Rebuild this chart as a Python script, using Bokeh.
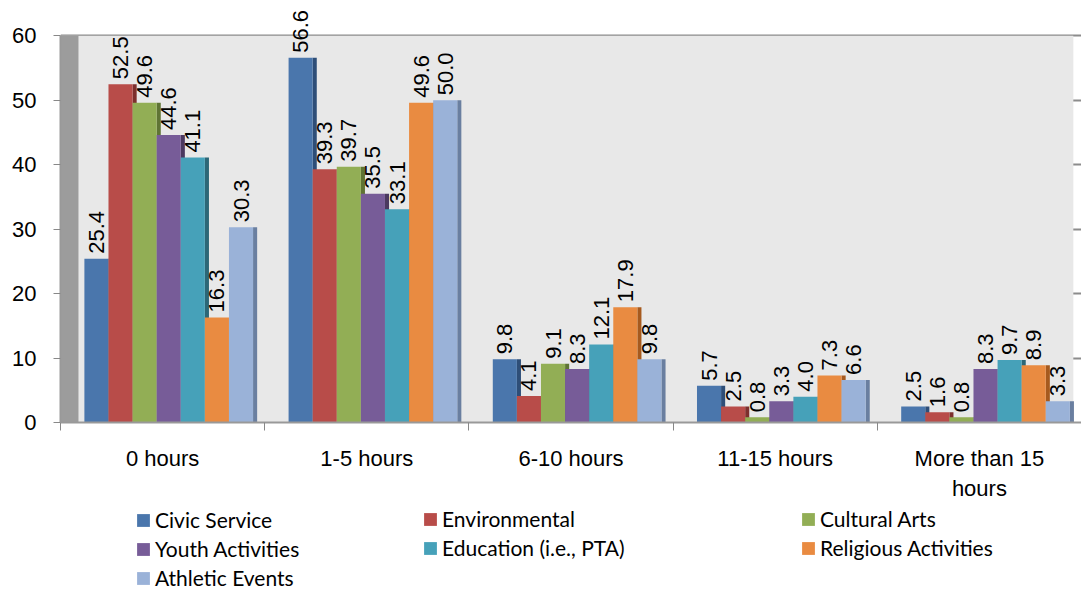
import math
from bokeh.plotting import figure
from bokeh.layouts import column
from bokeh.models import ColumnDataSource, FixedTicker, BoxAnnotation, Legend, LegendItem, Range1d
from bokeh.embed import file_html
from bokeh.resources import INLINE
from bokeh.core.properties import value

categories = ["0 hours", "1-5 hours", "6-10 hours", "11-15 hours", "More than 15\nhours"]
series_names = ["Civic Service", "Environmental", "Cultural Arts", "Youth Activities",
                "Education (i.e., PTA)", "Religious Activities", "Athletic Events"]
civic = [25.4, 56.6, 9.8, 5.7, 2.5]
environmental = [52.5, 39.3, 4.1, 2.5, 1.6]
cultural = [49.6, 39.7, 9.1, 0.8, 0.8]
youth = [44.6, 35.5, 8.3, 3.3, 8.3]
education = [41.1, 33.1, 12.1, 4.0, 9.7]
religious = [16.3, 49.6, 17.9, 7.3, 8.9]
athletic = [30.3, 50.0, 9.8, 6.6, 3.3]
y_ticks = [0, 10, 20, 30, 40, 50, 60]

series_values = [civic, environmental, cultural, youth, education, religious, athletic]
front_colors = ["#4A76AC", "#B84C49", "#92AE55", "#775C98", "#46A1B9", "#E98B41", "#9AB2D8"]
side_colors = ["#2E4E78", "#7D2F2D", "#5F7434", "#4B3960", "#2C6777", "#A65A1E", "#6A7FA0"]

n_cat = len(categories)
p = figure(width=1081, height=503, output_backend="svg", toolbar_location=None,
           x_range=Range1d(0, n_cat), y_range=Range1d(0, 65.48),
           min_border_left=60, min_border_right=0, min_border_top=0, min_border_bottom=73)
p.background_fill_color = None
p.border_fill_color = "white"
p.outline_line_color = None

# back wall and side wall
p.add_layout(BoxAnnotation(left=0, right=4.96, bottom=0, top=60, fill_color="#e8e8e8",
                           fill_alpha=1, line_color=None, level="underlay"))
p.add_layout(BoxAnnotation(left=0, right=0.088, bottom=0, top=60, fill_color="#9c9c9c",
                           fill_alpha=1, line_color=None, level="underlay"))

bw = 0.118
sw = 0.02
shift = 0.03
for k, (name, vals) in enumerate(zip(series_names, series_values)):
    xs = [i + 0.5 + (k - 3) * bw + shift for i in range(n_cat)]
    src = ColumnDataSource(dict(x=xs, top=vals, xs=[x + bw / 2 + sw / 2 for x in xs],
                                lab=[f"{v:.1f}" for v in vals]))
    p.vbar(x="xs", top="top", width=sw, bottom=0, source=src, fill_color=side_colors[k],
           line_color=None)
    p.vbar(x="x", top="top", width=bw, bottom=0, source=src, fill_color=front_colors[k],
           line_color=None)
    p.text(x="x", y="top", text="lab", source=src, angle=math.pi / 2, text_align="left",
           text_baseline="middle", y_offset=-5, text_font=value("Liberation Sans"),
           text_font_size="22px", text_color="black")

# axes
p.xaxis.ticker = FixedTicker(ticks=[i + 0.5 for i in range(n_cat)],
                             minor_ticks=list(range(n_cat + 1)))
p.xaxis.major_label_overrides = {i + 0.5: c for i, c in enumerate(categories)}
p.xaxis.major_tick_out = 0
p.xaxis.major_tick_in = 0
p.xaxis.minor_tick_out = 8
p.xaxis.minor_tick_in = 0
p.xaxis.minor_tick_line_color = "#888888"
p.xaxis.axis_line_color = "#999999"
p.xaxis.axis_line_width = 2
p.xaxis.major_label_text_font = "Liberation Sans"
p.xaxis.major_label_text_font_size = "22px"
p.xaxis.major_label_text_color = "black"
p.xaxis.major_label_standoff = 15

p.yaxis.ticker = FixedTicker(ticks=y_ticks)
p.yaxis.bounds = (0, 60)
p.yaxis.minor_tick_line_color = None
p.yaxis.major_tick_out = 7
p.yaxis.major_tick_in = 0
p.yaxis.major_tick_line_color = "#888888"
p.yaxis.axis_line_color = "#999999"
p.yaxis.axis_line_width = 2
p.yaxis.major_label_text_font = "Liberation Sans"
p.yaxis.major_label_text_font_size = "22px"
p.yaxis.major_label_text_color = "black"
p.yaxis.major_label_standoff = 17

p.xgrid.grid_line_color = None
p.ygrid.ticker = FixedTicker(ticks=y_ticks[1:])
p.ygrid.grid_line_color = "#8c8c8c"
p.ygrid.grid_line_width = 2
p.ygrid.level = "underlay"

# legend figure (three columns)
lf = figure(width=1081, height=90, output_backend="svg", toolbar_location=None,
            x_range=Range1d(0, 1), y_range=Range1d(0, 1), min_border=0,
            x_axis_location=None, y_axis_location=None)
lf.outline_line_color = None
lf.grid.visible = False
swatches = []
for k in range(len(series_names)):
    swatches.append(lf.vbar(x=[5], top=[0], bottom=[0], width=0.1,
                            fill_color=front_colors[k], line_color=None))

cols = [([0, 3, 6], 75, 3), ([1, 4], 362, 33), ([2, 5], 740, 33)]
for idxs, lx, ly in cols:
    lg = Legend(items=[LegendItem(label=series_names[i], renderers=[swatches[i]]) for i in idxs],
                location=(lx, ly), orientation="vertical", padding=0, margin=0,
                spacing=4, glyph_width=16, glyph_height=16, label_height=25,
                label_standoff=4, border_line_color=None, background_fill_alpha=0,
                label_text_font="Lato", label_text_font_size="21px", label_text_color="black")
    lf.add_layout(lg, "center")

layout = column(p, lf, spacing=0)
open("out.html", "w").write(file_html(layout, INLINE))
